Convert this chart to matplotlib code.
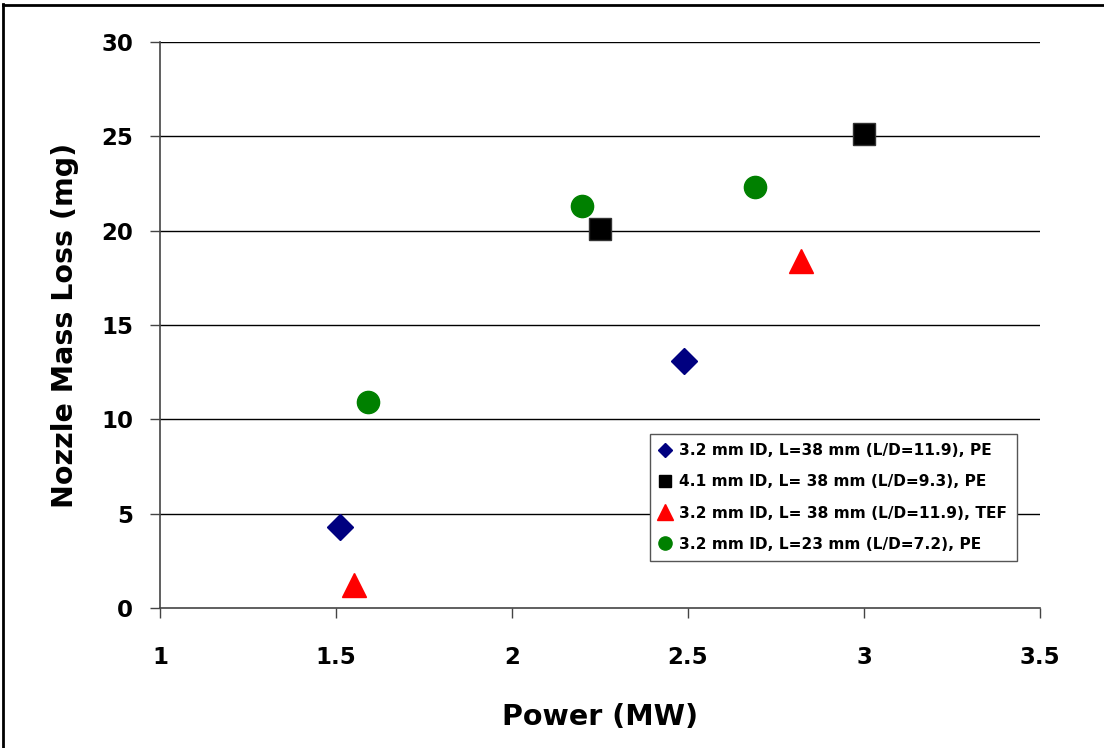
import matplotlib
matplotlib.use("Agg")
import matplotlib.pyplot as plt
from matplotlib.lines import Line2D

plt.rcParams['font.family'] = ['DejaVu Sans']

# Data
d_x = [1.51, 2.49]
d_y = [4.3, 13.1]
s_x = [2.25, 3.0]
s_y = [20.1, 25.1]
t_x = [1.55, 2.82]
t_y = [1.2, 18.4]
c_x = [1.59, 2.20, 2.69]
c_y = [10.9, 21.3, 22.3]

labels = ["3.2 mm ID, L=38 mm (L/D=11.9), PE",
          "4.1 mm ID, L= 38 mm (L/D=9.3), PE",
          "3.2 mm ID, L= 38 mm (L/D=11.9), TEF",
          "3.2 mm ID, L=23 mm (L/D=7.2), PE"]
xticks = [1, 1.5, 2, 2.5, 3, 3.5]
xticklabels = ["1", "1.5", "2", "2.5", "3", "3.5"]
yticks = [0, 5, 10, 15, 20, 25, 30]

fig = plt.figure(figsize=(11.04, 7.48), dpi=100)
ax = fig.add_axes([160/1104, 1 - 608/748, (1040-160)/1104, (608-42)/748])

ax.plot(d_x, d_y, ls='none', marker='D', ms=13, color='#000080', mec='#000080', zorder=3)
ax.plot(s_x, s_y, ls='none', marker='s', ms=16, color='black', mec='#333333', zorder=3)
ax.plot(t_x, t_y, ls='none', marker='^', ms=17, color='red', mec='red', zorder=3)
ax.plot(c_x, c_y, ls='none', marker='o', ms=16, color='#008000', mec='#008000', zorder=3)

ax.set_xlim(1, 3.5)
ax.set_ylim(0, 30)
ax.set_xticks(xticks)
ax.set_xticklabels(xticklabels)
ax.set_yticks(yticks)
for y in yticks[1:]:
    ax.axhline(y, color='black', lw=1.0, zorder=1)

for sp in ['top', 'right']:
    ax.spines[sp].set_visible(False)
ax.spines['left'].set_color('#444444')
ax.spines['bottom'].set_color('#444444')
ax.spines['left'].set_linewidth(1.2)
ax.spines['bottom'].set_linewidth(1.2)
ax.tick_params(axis='both', direction='out', length=7.5, width=1.0, color='#444444',
               labelsize=16.5, pad=12)
for lab in ax.get_xticklabels() + ax.get_yticklabels():
    lab.set_fontweight('bold')
ax.tick_params(axis='x', pad=20)

ax.set_xlabel("Power (MW)", fontsize=20.5, fontweight='bold', labelpad=24)
ax.set_ylabel("Nozzle Mass Loss (mg)", fontsize=20.5, fontweight='bold', labelpad=16)

handles = [
    Line2D([], [], ls='none', marker='D', ms=7.5, color='#000080'),
    Line2D([], [], ls='none', marker='s', ms=8.5, color='black'),
    Line2D([], [], ls='none', marker='^', ms=11, color='red'),
    Line2D([], [], ls='none', marker='o', ms=9.5, color='#008000'),
]
leg = ax.legend(handles, labels, loc='upper left',
                bbox_to_anchor=((650-160)/880, (608-434)/566),
                prop={'weight': 'bold', 'size': 11.1}, frameon=True, fancybox=False,
                edgecolor='#555555', framealpha=1, handlelength=0.7, handletextpad=0.6,
                labelspacing=1.05, borderpad=0.6, borderaxespad=0)
leg.get_frame().set_linewidth(1.0)

# figure border (top and left visible)
fig.add_artist(Line2D([2.5/1104, 2.5/1104], [0, 1 - 4/748], color='black', lw=2,
                      transform=fig.transFigure))
fig.add_artist(Line2D([2.5/1104, 1], [1 - 5/748, 1 - 5/748], color='black', lw=2,
                      transform=fig.transFigure))

fig.savefig("out.png", dpi=100)
